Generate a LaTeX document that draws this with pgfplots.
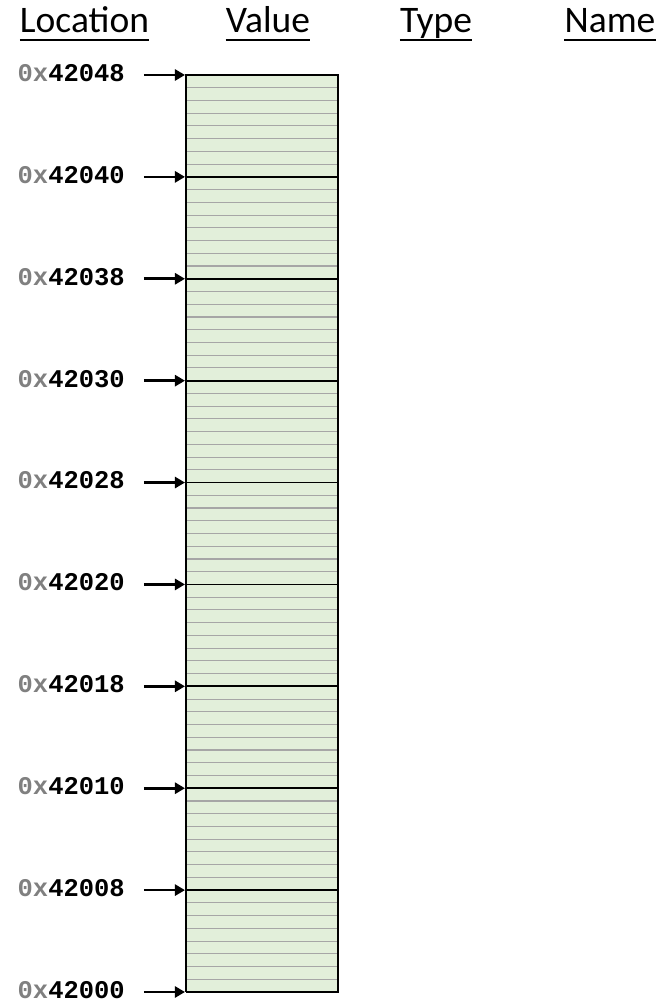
\documentclass[border=0pt]{standalone}
\usepackage{pgfplots}
\pgfplotsset{compat=1.18}
\usepackage{fontspec}
\setmainfont{Carlito}
\newfontfamily\monofont{Liberation Mono}
\usetikzlibrary{arrows.meta}
\definecolor{cellfill}{HTML}{E2EFDA}
\definecolor{byteline}{HTML}{A6A6A6}
\definecolor{hexgray}{HTML}{808080}
\newcommand\addr[1]{{\fontsize{25.5}{28}\monofont\bfseries\textcolor{hexgray}{0x}#1}}

\begin{document}
\begin{tikzpicture}
\begin{axis}[
  width=672pt, height=1006pt, scale only axis,
  xmin=0, xmax=672, ymin=-1.0993, ymax=77.889,
  hide axis, clip=false,
]
\path (rel axis cs:0,0) rectangle (rel axis cs:1,1);
% cell fill
\addplot[fill=cellfill, draw=none] coordinates {(186,0)(338,0)(338,72)(186,72)(186,0)};
% byte lines
\pgfplotsinvokeforeach{1,...,71}{
  \addplot[byteline, line width=1.1pt] coordinates {(186,#1)(338,#1)};
}
% word lines
\pgfplotsinvokeforeach{8,16,24,32,40,48,56,64}{
  \addplot[black, line width=1.8pt] coordinates {(186,#1)(338,#1)};
}
% outer border
\addplot[black, line width=2pt, line join=miter] coordinates {(186,0)(338,0)(338,72)(186,72)(186,0)};
% arrows
\addplot[black, quiver={u=41, v=0, every arrow/.append style={line width=2.6pt, -{Triangle[length=10pt, width=11pt]}}}] table {
x y
144 0
144 8
144 16
144 24
144 32
144 40
144 48
144 56
144 64
144 72
};
% address labels
\addplot[draw=none, mark=none, point meta=explicit symbolic,
  nodes near coords={\addr{\pgfplotspointmeta}},
  nodes near coords align={anchor=east, yshift=2pt, inner sep=0pt}] table[meta=lab] {
x y lab
125 0 42000
125 8 42008
125 16 42010
125 24 42018
125 32 42020
125 40 42028
125 48 42030
125 56 42038
125 64 42040
125 72 42048
};
\node[anchor=base, inner sep=0pt, font=\fontsize{37.5}{42}\selectfont] (h1) at (axis cs:84.5,75.30) {Location};
\node[anchor=base, inner sep=0pt, font=\fontsize{37.5}{42}\selectfont] (h2) at (axis cs:268,75.30) {Value};
\node[anchor=base, inner sep=0pt, font=\fontsize{37.5}{42}\selectfont] (h3) at (axis cs:436,75.30) {Type};
\node[anchor=base, inner sep=0pt, font=\fontsize{37.5}{42}\selectfont] (h4) at (axis cs:610,75.30) {Name};
\draw[line width=2pt] ([yshift=-7pt]h1.base west) -- ([yshift=-7pt]h1.base east);
\draw[line width=2pt] ([yshift=-7pt]h2.base west) -- ([yshift=-7pt]h2.base east);
\draw[line width=2pt] ([yshift=-7pt]h3.base west) -- ([yshift=-7pt]h3.base east);
\draw[line width=2pt] ([yshift=-7pt]h4.base west) -- ([yshift=-7pt]h4.base east);
\end{axis}
\end{tikzpicture}
\end{document}
